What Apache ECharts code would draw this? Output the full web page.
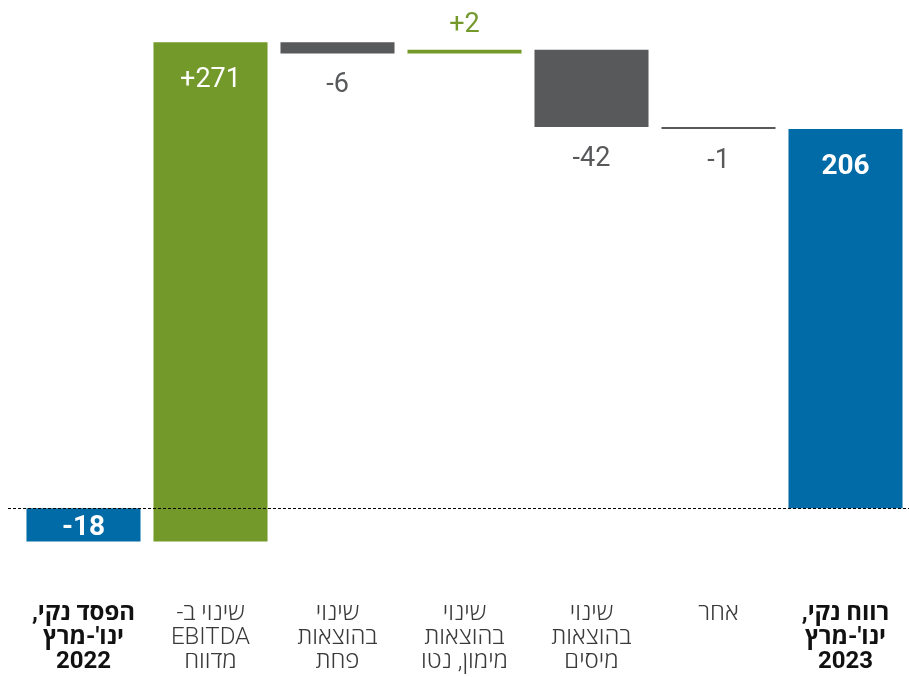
<!DOCTYPE html>
<html><head><meta charset="utf-8">
<script src="https://cdn.jsdelivr.net/npm/echarts@6/dist/echarts.min.js"></script>
<style>html,body{margin:0;padding:0;background:#fff}#c{width:909px;height:677px}</style>
</head><body><div id="c"></div>
<script>
// Categories (RTL marks keep trailing punctuation on the left)
const categories = [
  "הפסד נקי,\u200F\nינו'-מרץ\n2022",
  "שינוי ב-\u200F\nEBITDA\nמדווח",
  "שינוי\nבהוצאות\nפחת",
  "שינוי\nבהוצאות\nמימון, נטו",
  "שינוי\nבהוצאות\nמיסים",
  "אחר",
  "רווח נקי,\u200F\nינו'-מרץ\n2023"
];
// Values: first and last are totals, others are changes
const values = [-18, 271, -6, 2, -42, -1, 206];
const isTotal = [true, false, false, false, false, false, true];
const valueLabels = ["-18", "+271", "-6", "+2", "-42", "-1", "206"];

const GREEN = '#72992a', GRAY = '#58595b', BLUE = '#006ba6';

// build waterfall ranges
let run = 0;
const ranges = values.map((v, i) => {
  let lo, hi;
  if (isTotal[i]) { lo = Math.min(0, v); hi = Math.max(0, v); run = v; }
  else { const s = run, e = run + v; lo = Math.min(s, e); hi = Math.max(s, e); run = e; }
  return [i, lo, hi, v];
});

const chart = echarts.init(document.getElementById('c'), null, {renderer: 'canvas'});
const FONT = "Roboto, 'Open Sans', 'Liberation Sans', 'DejaVu Sans', sans-serif";

chart.setOption({
  animation: false,
  grid: {left: 20, right: 0, top: 0, bottom: 95},
  xAxis: {
    type: 'category', data: categories,
    axisLine: {show: false, onZero: false}, axisTick: {show: false},
    axisLabel: {
      interval: 0, margin: 20,
      formatter: (val, idx) => {
        const lines = val.split('\n');
        const k = isTotal[idx] ? 'b' : 'n';
        return lines.map(l => '{' + k + '|' + l + '}').join('\n');
      },
      rich: {
        n: {fontSize: 24, lineHeight: 24, color: '#3a3a3a', fontFamily: FONT, fontWeight: 300},
        b: {fontSize: 24, lineHeight: 24, color: '#111', fontFamily: FONT, fontWeight: 'bold'}
      }
    }
  },
  yAxis: {type: 'value', min: -40, max: 276, show: false, splitLine: {show: false}},
  series: [
    {
      type: 'custom',
      data: ranges,
      renderItem: (params, api) => {
        const i = api.value(0), lo = api.value(1), hi = api.value(2), v = api.value(3);
        const pTop = api.coord([i, hi]), pBot = api.coord([i, lo]);
        const w = api.size([1, 0])[0] * 0.898;
        const x = pTop[0] - w / 2;
        let color, txtColor, ty, bold = false, fs = 27;
        if (isTotal[i]) {
          color = BLUE; txtColor = '#fff'; bold = true; fs = 28;
          ty = v >= 0 ? pTop[1] + 38 : (pTop[1] + pBot[1]) / 2 + 3;
        } else if (v > 0) {
          color = GREEN;
          if (pBot[1] - pTop[1] > 60) { txtColor = '#fff'; ty = pTop[1] + 38; }
          else { txtColor = GREEN; ty = pTop[1] - 24; }
        } else {
          color = GRAY; txtColor = GRAY; ty = pBot[1] + 32;
        }
        return {
          type: 'group',
          children: [
            {type: 'rect', shape: {x: x, y: pTop[1], width: w, height: Math.max(pBot[1] - pTop[1], 1.8)}, style: {fill: color}},
            {type: 'text', x: pTop[0], y: ty, style: {
              text: valueLabels[i], fill: txtColor, align: 'center', verticalAlign: 'middle',
              fontSize: fs, fontWeight: bold ? 'bold' : 'normal', fontFamily: FONT
            }}
          ]
        };
      }
    },
    {
      type: 'line', data: [], silent: true,
      markLine: {
        silent: true, symbol: 'none', label: {show: false},
        lineStyle: {color: '#000', type: [3, 2], width: 1},
        data: [[{x: 8, yAxis: 0}, {x: 909, yAxis: 0}]]
      }
    }
  ]
});
</script></body></html>
